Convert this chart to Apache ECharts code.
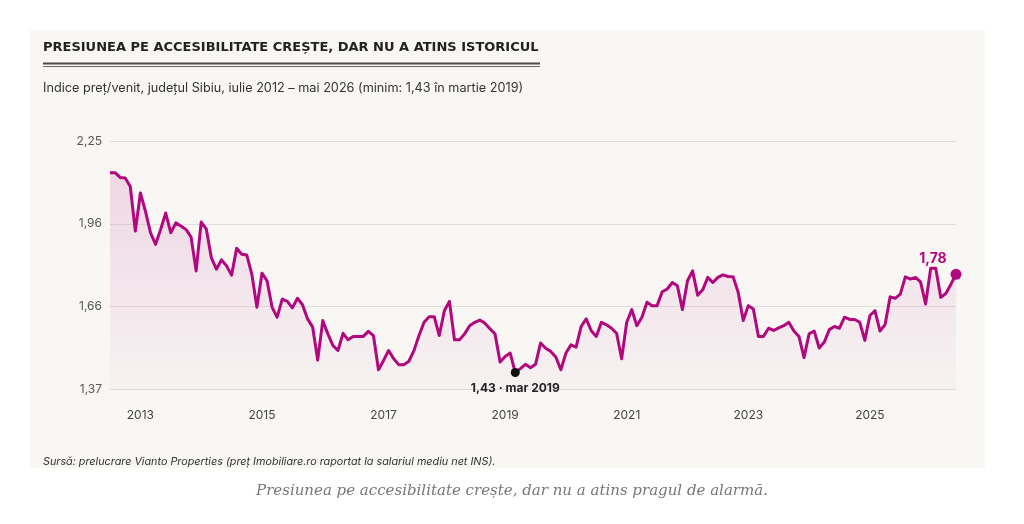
<!DOCTYPE html>
<html>
<head>
<meta charset="utf-8">
<script src="https://cdn.jsdelivr.net/npm/echarts@6/dist/echarts.min.js"></script>
<style>
html, body { margin: 0; padding: 0; background: #fff; }
#chart { width: 1024px; height: 524px; }
</style>
</head>
<body>
<div id="chart"></div>
<script>
// indice pret/venit, lunar, incepand cu iulie 2012
var startYear = 2012
var startMonth = 6
var monthNames = ['ian', 'feb', 'mar', 'apr', 'mai', 'iun', 'iul', 'aug', 'sep', 'oct', 'nov', 'dec']

var values2012_2014 = [
  2.138, 2.138, 2.121, 2.119, 2.089, 1.931,
  2.066, 2.001, 1.925, 1.884, 1.937, 1.995, 1.925, 1.960, 1.949, 1.937, 1.910, 1.790,
  1.963, 1.939, 1.837, 1.796, 1.829, 1.808, 1.775, 1.870, 1.849, 1.846, 1.778, 1.661
]
var values2015_2017 = [
  1.782, 1.755, 1.661, 1.626, 1.690, 1.682, 1.659, 1.693, 1.670, 1.620, 1.591, 1.474,
  1.614, 1.567, 1.526, 1.508, 1.569, 1.546, 1.558, 1.558, 1.558, 1.576, 1.561, 1.440,
  1.473, 1.508, 1.479, 1.458, 1.458, 1.470, 1.508, 1.561, 1.608, 1.628, 1.628, 1.561
]
var values2018_2020 = [
  1.649, 1.682, 1.546, 1.546, 1.567, 1.596, 1.608, 1.616, 1.605, 1.585, 1.567, 1.467,
  1.487, 1.499, 1.430, 1.444, 1.459, 1.447, 1.459, 1.535, 1.516, 1.505, 1.485, 1.440,
  1.499, 1.528, 1.520, 1.593, 1.620, 1.578, 1.558, 1.608, 1.599, 1.587, 1.569, 1.479
]
var values2021_2023 = [
  1.608, 1.653, 1.596, 1.626, 1.679, 1.667, 1.667, 1.716, 1.726, 1.749, 1.737, 1.653,
  1.755, 1.790, 1.704, 1.723, 1.767, 1.749, 1.767, 1.776, 1.770, 1.769, 1.714, 1.614,
  1.667, 1.655, 1.558, 1.558, 1.587, 1.579, 1.588, 1.596, 1.608, 1.577, 1.558, 1.483
]
var values2024_2026 = [
  1.567, 1.577, 1.517, 1.538, 1.582, 1.593, 1.587, 1.626, 1.618, 1.618, 1.608, 1.544,
  1.632, 1.649, 1.577, 1.600, 1.698, 1.693, 1.708, 1.769, 1.761, 1.767, 1.751, 1.673,
  1.799, 1.799, 1.696, 1.710, 1.743, 1.778
]
var yTicks = [1.37, 1.6633, 1.9567, 2.25]

var values = [].concat(values2012_2014, values2015_2017, values2018_2020, values2021_2023, values2024_2026)
var months = []
for (var i = 0; i < values.length; i++) {
  var m = (startMonth + i) % 12
  var y = startYear + Math.floor((startMonth + i) / 12)
  months.push(monthNames[m] + ' ' + y)
}
var lastIdx = values.length - 1

function fmt(v) {
  return v.toFixed(2).replace('.', ',')
}

var accent = '#b1087e'
var chart = echarts.init(document.getElementById('chart'), null, { renderer: 'canvas' })

var option = {
  backgroundColor: '#ffffff',
  animation: false,
  textStyle: { fontFamily: 'Inter' },
  graphic: [
    {
      type: 'rect',
      z: -10,
      shape: { x: 30, y: 30, width: 955, height: 438 },
      style: { fill: '#f8f7f4' }
    },
    {
      type: 'line',
      shape: { x1: 43, y1: 63.5, x2: 540, y2: 63.5 },
      style: { stroke: '#4a4a4a', lineWidth: 2 }
    },
    {
      type: 'line',
      shape: { x1: 43, y1: 66.5, x2: 540, y2: 66.5 },
      style: { stroke: '#6a6a6a', lineWidth: 1 }
    }
  ],
  title: [
    {
      text: 'PRESIUNEA PE ACCESIBILITATE CREȘTE, DAR NU A ATINS ISTORICUL',
      left: 38,
      top: 36,
      textStyle: { fontFamily: 'DejaVu Sans', fontSize: 13, fontWeight: 'bold', color: '#222' }
    },
    {
      text: 'Indice preț/venit, județul Sibiu, iulie 2012 – mai 2026 (minim: 1,43 în martie 2019)',
      left: 38,
      top: 77,
      textStyle: { fontFamily: 'Inter', fontSize: 12.7, fontWeight: 'normal', color: '#333' }
    },
    {
      text: 'Sursă: prelucrare Vianto Properties (preț Imobiliare.ro raportat la salariul mediu net INS).',
      left: 38,
      top: 451,
      textStyle: { fontFamily: 'Inter', fontSize: 10.8, fontStyle: 'italic', fontWeight: 'normal', color: '#333' }
    },
    {
      text: 'Presiunea pe accesibilitate crește, dar nu a atins pragul de alarmă.',
      left: 'center',
      top: 479,
      textStyle: { fontFamily: 'DejaVu Serif', fontSize: 15, fontStyle: 'italic', fontWeight: 'normal', color: '#777' }
    }
  ],
  grid: {
    left: 110,
    right: 68,
    top: 141,
    bottom: 134.5
  },
  xAxis: {
    type: 'category',
    boundaryGap: false,
    data: months,
    axisLine: { show: false },
    axisTick: { show: false },
    axisLabel: {
      color: '#444',
      fontSize: 12,
      margin: 20,
      interval: function (index, value) {
        var parts = value.split(' ')
        return parts[0] === 'ian' && Number(parts[1]) % 2 === 1
      },
      formatter: function (value) {
        return value.split(' ')[1]
      }
    },
    splitLine: { show: false }
  },
  yAxis: {
    type: 'value',
    min: 1.37,
    max: 2.25,
    axisLine: { show: false },
    axisTick: { show: false, customValues: yTicks },
    axisLabel: {
      color: '#555',
      fontSize: 12,
      margin: 8,
      customValues: yTicks,
      formatter: function (v) { return fmt(v) }
    },
    splitLine: {
      lineStyle: { color: '#e2dedd', width: 1 }
    }
  },
  series: [
    {
      name: 'Indice preț/venit',
      type: 'line',
      data: values,
      symbol: 'none',
      lineStyle: { color: accent, width: 3, join: 'round' },
      itemStyle: { color: accent },
      areaStyle: {
        color: new echarts.graphic.LinearGradient(0, 0, 0, 1, [
          { offset: 0, color: 'rgba(177,8,126,0.19)' },
          { offset: 1, color: 'rgba(177,8,126,0.03)' }
        ])
      },
      markPoint: {
        symbol: 'circle',
        animation: false,
        data: [
          {
            type: 'min',
            symbolSize: 9,
            itemStyle: { color: '#111' },
            label: {
              show: true,
              position: 'bottom',
              distance: 5,
              formatter: function (p) {
                return fmt(p.value) + ' · ' + months[values.indexOf(p.value)]
              },
              color: '#222',
              fontSize: 12,
              fontWeight: 'bold',
              fontFamily: 'Inter'
            }
          },
          {
            coord: [lastIdx, values[lastIdx]],
            value: values[lastIdx],
            symbolSize: 11,
            itemStyle: { color: accent },
            label: {
              show: true,
              position: 'top',
              distance: 3,
              offset: [-23, 0],
              formatter: function (p) { return fmt(p.value) },
              color: accent,
              fontSize: 14,
              fontWeight: 'bold',
              fontFamily: 'Inter'
            }
          }
        ]
      }
    }
  ]
}

chart.setOption(option)
</script>
</body>
</html>
